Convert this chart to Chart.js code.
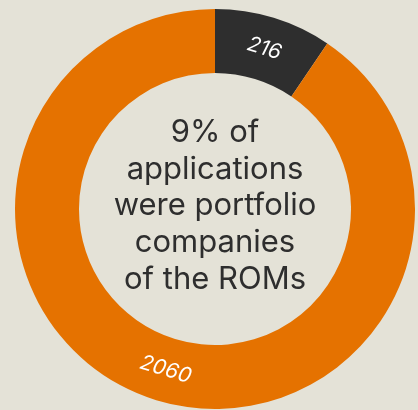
<!DOCTYPE html>
<html>
<head>
<meta charset="utf-8">
<script src="https://cdn.jsdelivr.net/npm/chart.js@4.4.0/dist/chart.umd.min.js"></script>
<style>
  html, body { margin: 0; padding: 0; background: #e4e2d7; }
  #wrap { width: 418px; height: 410px; }
</style>
</head>
<body>
<div id="wrap"><canvas id="donut"></canvas></div>
<script>
const categories = ["Portfolio companies of the ROMs", "Other applications"];
const values = [216, 2060];
const colors = ["#2e2e2e", "#e57200"];
const centerLines = ["9% of", "applications", "were portfolio", "companies", "of the ROMs"];

// values written along the ring, rotated to follow it
const arcLabels = {
    id: 'arcLabels',
    afterDatasetsDraw(chart) {
        const ctx = chart.ctx;
        const meta = chart.getDatasetMeta(0);
        ctx.save();
        ctx.fillStyle = "#ffffff";
        ctx.font = "italic 21px Inter, 'Noto Sans', sans-serif";
        ctx.textAlign = "center";
        ctx.textBaseline = "middle";
        meta.data.forEach((arc, i) => {
            const p = arc.tooltipPosition();
            const mid = (arc.startAngle + arc.endAngle) / 2;
            let rot = mid + Math.PI / 2;
            while (rot > Math.PI) rot -= 2 * Math.PI;
            if (rot > Math.PI / 2) rot -= Math.PI;
            if (rot < -Math.PI / 2) rot += Math.PI;
            ctx.save();
            ctx.translate(p.x, p.y);
            ctx.rotate(rot);
            ctx.fillText(String(values[i]), 0, 0);
            ctx.restore();
        });
        ctx.restore();
    }
};

const centerText = {
    id: 'centerText',
    afterDraw(chart) {
        const ctx = chart.ctx;
        const arc = chart.getDatasetMeta(0).data[0];
        const cx = arc.x, cy = arc.y;
        const lh = 36.7;
        ctx.save();
        ctx.fillStyle = "#2e2e2e";
        ctx.font = "31px Inter, 'Noto Sans', sans-serif";
        ctx.textAlign = "center";
        ctx.textBaseline = "middle";
        const top = cy - 3 - lh * (centerLines.length - 1) / 2;
        centerLines.forEach((t, i) => ctx.fillText(t, cx, top + i * lh));
        ctx.restore();
    }
};

new Chart(document.getElementById("donut"), {
    type: 'doughnut',
    data: {
        labels: categories,
        datasets: [{
            data: values,
            backgroundColor: colors,
            borderWidth: 0,
            hoverOffset: 0
        }]
    },
    options: {
        responsive: true,
        maintainAspectRatio: false,
        animation: false,
        cutout: '68%',
        layout: { padding: { left: 14, top: 9, right: 2, bottom: 1 } },
        plugins: {
            legend: { display: false },
            tooltip: { enabled: false }
        }
    },
    plugins: [arcLabels, centerText]
});
</script>
</body>
</html>
